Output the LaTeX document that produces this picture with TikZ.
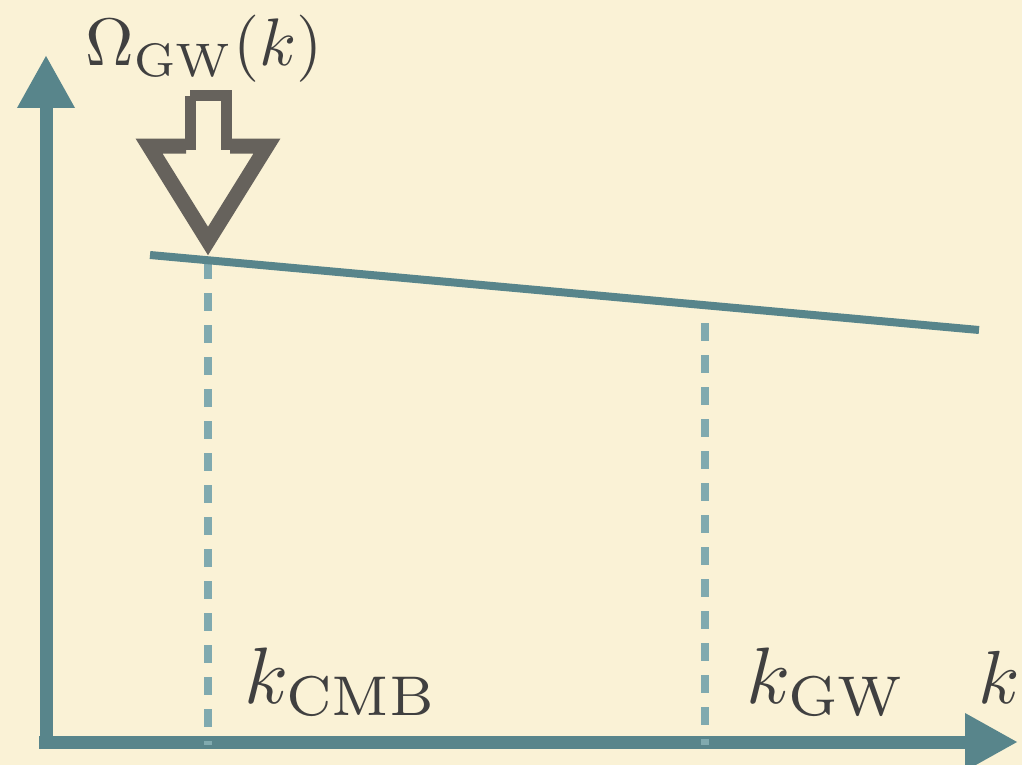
\documentclass[tikz,border=0pt]{standalone}
\usetikzlibrary{arrows.meta}
\definecolor{paper}{HTML}{FAF2D6}
\definecolor{axisteal}{HTML}{58858B}
\definecolor{markteal}{HTML}{80AAAF}
\definecolor{pengray}{HTML}{66625C}
\definecolor{inkgray}{HTML}{404040}
\tikzset{
  axisline/.style={line width=13pt,axisteal,-{Triangle[length=53pt,width=54pt]}},
  specline/.style={line width=8pt,axisteal},
  markline/.style={line width=8pt,markteal,dash pattern=on 18pt off 14pt},
  biglabel/.style={inner sep=0pt,text=inkgray,font=\fontsize{10}{12}\selectfont,
    scale=8,transform shape},
}
\begin{document}
\begin{tikzpicture}[x=1pt,y=-1pt]
\useasboundingbox (0,0) rectangle (1022,765);
\clip (0,0) rectangle (1022,765);
\fill[paper] (0,0) rectangle (1022,765);
\coordinate (origin) at (46,742);
\draw[axisline] (46,749) -- (46,55);
\draw[axisline] (39,742) -- (1018,742);
\coordinate (cmbtop) at (208,261);
\coordinate (gwtop) at (705,323);
\draw[markline] (cmbtop) -- (208,745);
\draw[markline] (gwtop) -- (705,745);
\draw[specline] (150,255) -- (979,330);
% hollow pointer
\draw[pengray,line width=11pt,line join=miter]
  (190,96) -- (226,96) -- (226,150) (190,150) -- (190,96);
\draw[pengray,line width=15pt,line join=miter]
  (186,146) -- (149,146) -- (208,241) -- (267,146) -- (230,146);
\node[biglabel,anchor=base west] (kcmb) at (243,703) {$k_{\mathrm{CMB}}$};
\node[biglabel,anchor=base west] (kgw) at (745,703) {$k_{\mathrm{GW}}$};
\node[biglabel,scale=0.94,anchor=base west] (kaxis) at (977,703) {$k$};
\node[biglabel,scale=0.84,anchor=base west] (omega) at (84,66)
  {$\Omega_{\mathrm{GW}}(k)$};
\end{tikzpicture}
\end{document}
